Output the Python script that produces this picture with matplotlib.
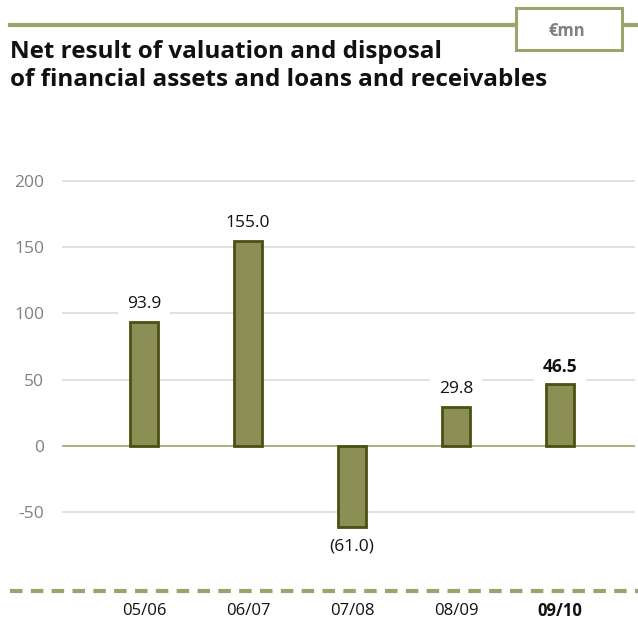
import matplotlib.pyplot as plt
from matplotlib.patches import Rectangle
from matplotlib.lines import Line2D

plt.rcParams['font.family'] = ['Open Sans', 'DejaVu Sans']

# Values in EUR million
periods = ['05/06', '06/07', '07/08', '08/09', '09/10']
net_result = [93.9, 155.0, -61.0, 29.8, 46.5]
value_labels = ['93.9', '155.0', '(61.0)', '29.8', '46.5']
y_ticks = [-50, 0, 50, 100, 150, 200]

olive = '#9ea26c'
bar_fill = '#8b8f55'
bar_edge = '#4a5210'

W, H = 638, 622
fig = plt.figure(figsize=(W / 100, H / 100), dpi=100)

# header rule, unit box and title
fig.add_artist(Line2D([10 / W, 1], [1 - 25 / H] * 2, color=olive, lw=3, zorder=1))
fig.add_artist(Rectangle((516 / W, 1 - 50 / H), 106 / W, 42 / H, facecolor='white',
                         edgecolor=olive, lw=2.2, transform=fig.transFigure, zorder=2))
fig.text(567 / W, 1 - 31 / H, '€mn', ha='center', va='center', fontsize=12,
         fontweight='bold', color='#808080', zorder=3)
fig.text(10 / W, 1 - 58 / H, 'Net result of valuation and disposal',
         ha='left', va='baseline', fontsize=17.5, fontweight='bold', color='#111111')
fig.text(10 / W, 1 - 86 / H, 'of financial assets and loans and receivables',
         ha='left', va='baseline', fontsize=17.5, fontweight='bold', color='#111111')

# bottom dashed rule
fig.add_artist(Line2D([10 / W, 1], [1 - 591 / H] * 2, color=olive, lw=3,
                      linestyle=(0, (3, 2))))

ax = fig.add_axes([62 / W, 1 - 560 / H, 573 / W, 400 / H])
x = list(range(len(periods)))
ax.bar(x, net_result, width=0.27, color=bar_fill, edgecolor=bar_edge, linewidth=2, zorder=3)
ax.set_xlim(-0.788, 4.72)
ax.set_ylim(-86, 215.8)
ax.set_yticks(y_ticks)
ax.set_yticklabels([str(t) for t in y_ticks])
ax.yaxis.grid(True, color='#dcdcdc', lw=1.2, zorder=0)
ax.axhline(0, color='#a5aa6e', lw=1.2, zorder=2)
ax.tick_params(axis='y', length=0, pad=13, labelsize=12.5, labelcolor='#808080')
ax.set_xticks([])
for s in ax.spines.values():
    s.set_visible(False)

# value labels sit on white boxes that break the gridlines, but stay under the bars
for i, (v, lab) in enumerate(zip(net_result, value_labels)):
    bold = i == len(periods) - 1
    off = 12.5 if v >= 0 else -14
    ax.annotate(lab, (i, v), xytext=(0, off), textcoords='offset points', ha='center',
                va='center', fontsize=12.5, color='#111111',
                fontweight='bold' if bold else 'normal',
                bbox=dict(boxstyle='square,pad=0.5', fc='white', ec='none'), zorder=2.5)

# category labels below the dashed rule
for i, p in enumerate(periods):
    ax.annotate(p, (i, 0), xycoords=('data', 'figure fraction'),
                xytext=(0, (H - 611) * 0.72), textcoords='offset points',
                ha='center', va='center', fontsize=12, color='#111111',
                fontweight='bold' if i == len(periods) - 1 else 'normal')

fig.savefig('out.png', dpi=100)
